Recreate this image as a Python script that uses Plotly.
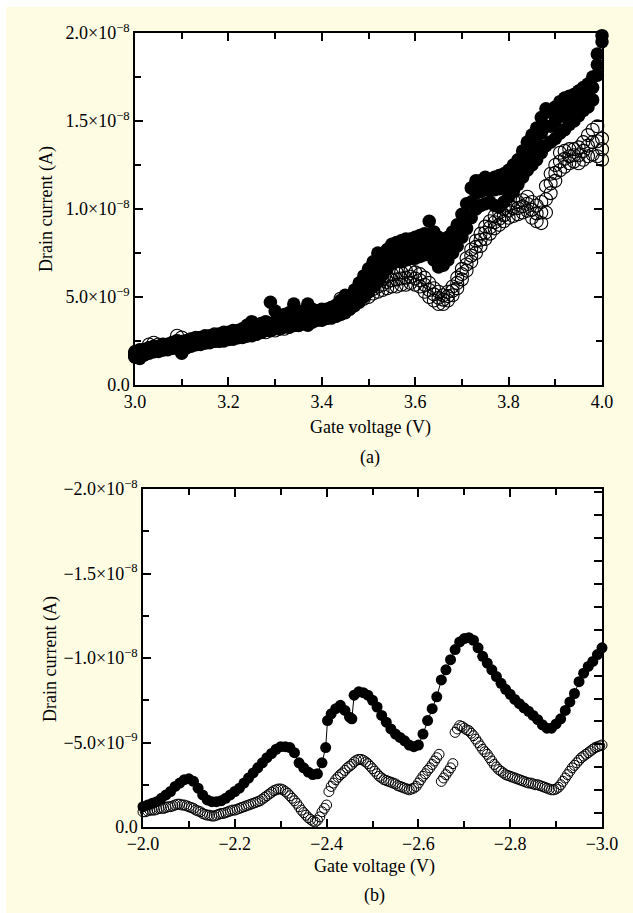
import plotly.graph_objects as go

NA = 1e-9  # values below are stored in nA

# ---------------- (a) positive gate sweep ----------------
VG_A = [
    3.00, 3.01, 3.02, 3.03, 3.04, 3.05, 3.06, 3.07, 3.08, 3.09,
    3.10, 3.11, 3.12, 3.13, 3.14, 3.15, 3.16, 3.17, 3.18, 3.19,
    3.20, 3.21, 3.22, 3.23, 3.24, 3.25, 3.26, 3.27, 3.28, 3.29,
    3.30, 3.31, 3.32, 3.33, 3.34, 3.35, 3.36, 3.37, 3.38, 3.39,
    3.40, 3.41, 3.42, 3.43, 3.44, 3.45, 3.46, 3.47, 3.48, 3.49,
    3.50, 3.51, 3.52, 3.53, 3.54, 3.55, 3.56, 3.57, 3.58, 3.59,
    3.60, 3.61, 3.62, 3.63, 3.64, 3.65, 3.66, 3.67, 3.68, 3.69,
    3.70, 3.71, 3.72, 3.73, 3.74, 3.75, 3.76, 3.77, 3.78, 3.79,
    3.80, 3.81, 3.82, 3.83, 3.84, 3.85, 3.86, 3.87, 3.88, 3.89,
    3.90, 3.91, 3.92, 3.93, 3.94, 3.95, 3.96, 3.97, 3.98, 3.99,
    4.00,
]
ID_A_FILLED_LO = [
    1.6, 1.5, 1.7, 1.8, 1.9, 1.9, 2.0, 2.0, 2.1, 2.1,
    1.8, 2.1, 2.2, 2.3, 2.3, 2.4, 2.4, 2.5, 2.5, 2.5,
    2.6, 2.6, 2.7, 2.7, 2.8, 2.8, 2.9, 3.0, 3.1, 3.1,
    3.2, 3.2, 3.3, 3.3, 3.4, 3.4, 3.5, 3.4, 3.6, 3.7,
    3.7, 3.8, 3.8, 3.9, 4.0, 4.1, 4.3, 4.5, 4.7, 5.0,
    5.3, 5.6, 5.9, 6.3, 6.6, 6.9, 7.0, 7.0, 7.1, 7.2,
    7.2, 7.3, 7.4, 7.5, 7.1, 6.7, 6.8, 7.1, 7.5, 7.9,
    8.4, 8.9, 9.5, 10.0, 10.2, 10.3, 10.4, 10.2, 10.1, 10.4,
    10.7, 11.0, 11.4, 11.8, 12.2, 12.5, 12.8, 13.2, 13.6, 13.8,
    14.0, 14.3, 14.5, 14.8, 15.0, 15.3, 15.6, 15.8, 16.2, 17.6,
    19.5,
]
ID_A_FILLED_MID = [
    1.75, 1.8, 1.85, 1.95, 2.05, 2.05, 2.15, 2.2, 2.25, 2.3,
    2.1, 2.3, 2.4, 2.5, 2.5, 2.6, 2.6, 2.7, 2.7, 2.75,
    2.8, 2.85, 2.9, 2.95, 3.1, 3.2, 3.15, 3.25, 3.35, 3.45,
    3.6, 3.5, 3.6, 3.7, 3.9, 3.7, 3.85, 3.9, 3.95, 3.95,
    4.0, 4.05, 4.1, 4.2, 4.4, 4.6, 4.65, 4.95, 5.25, 5.6,
    5.95, 6.3, 6.7, 6.8, 7.1, 7.45, 7.55, 7.6, 7.7, 7.75,
    7.8, 7.9, 8.0, 8.4, 7.9, 7.5, 7.5, 7.75, 8.1, 8.5,
    9.05, 9.6, 10.4, 10.9, 11.0, 11.1, 11.05, 11.1, 11.15, 11.3,
    11.55, 11.8, 12.15, 12.6, 13.05, 13.4, 13.75, 14.3, 14.7, 14.7,
    15.0, 15.25, 15.45, 15.65, 15.8, 16.0, 16.3, 16.5, 16.9, 18.2,
    19.85,
]
ID_A_FILLED_HI = [
    1.9, 2.0, 2.0, 2.1, 2.2, 2.2, 2.3, 2.3, 2.4, 2.5,
    2.4, 2.5, 2.6, 2.7, 2.7, 2.8, 2.8, 2.9, 2.9, 3.0,
    3.0, 3.1, 3.1, 3.2, 3.4, 3.6, 3.4, 3.5, 3.6, 4.7,
    4.2, 3.9, 4.0, 4.1, 4.6, 4.0, 4.2, 4.6, 4.3, 4.2,
    4.3, 4.3, 4.4, 4.5, 4.8, 5.1, 5.0, 5.4, 5.8, 6.2,
    6.6, 7.0, 7.5, 7.3, 7.7, 8.0, 8.1, 8.2, 8.3, 8.3,
    8.4, 8.5, 8.6, 9.3, 8.7, 8.4, 8.2, 8.4, 8.7, 9.1,
    9.7, 10.3, 11.2, 11.6, 11.6, 11.8, 11.6, 11.8, 11.9, 12.0,
    12.2, 12.5, 12.8, 13.3, 13.8, 14.2, 14.6, 15.2, 15.7, 15.5,
    15.8, 16.1, 16.3, 16.4, 16.5, 16.7, 16.9, 17.1, 17.5, 18.8,
    20.2,
]
ID_A_OPEN_LO = [
    1.6, 1.7, 1.8, 1.9, 1.9, 2.0, 2.0, 2.1, 2.1, 2.2,
    2.2, 2.2, 2.3, 2.3, 2.4, 2.4, 2.5, 2.5, 2.5, 2.6,
    2.6, 2.7, 2.7, 2.8, 2.8, 2.9, 2.9, 3.0, 3.0, 3.1,
    3.1, 3.2, 3.2, 3.3, 3.4, 3.4, 3.5, 3.5, 3.6, 3.7,
    3.7, 3.8, 3.9, 4.0, 4.1, 4.2, 4.4, 4.6, 4.8, 4.9,
    5.0, 5.2, 5.3, 5.4, 5.5, 5.6, 5.6, 5.7, 5.7, 5.8,
    5.7, 5.6, 5.3, 5.0, 4.8, 4.6, 4.6, 4.8, 5.1, 5.5,
    6.0, 6.5, 7.0, 7.5, 7.9, 8.3, 8.6, 8.9, 9.1, 9.3,
    9.5, 9.6, 9.7, 9.8, 9.9, 9.5, 9.3, 9.2, 9.8, 10.9,
    11.6, 12.2, 12.4, 12.6, 12.7, 12.6, 12.8, 13.0, 13.1, 13.0,
    12.8,
]
ID_A_OPEN_MID = [
    1.7, 1.8, 1.9, 2.1, 2.15, 2.15, 2.15, 2.2, 2.25, 2.5,
    2.45, 2.35, 2.45, 2.45, 2.5, 2.55, 2.6, 2.65, 2.65, 2.75,
    2.75, 2.8, 2.85, 2.9, 2.95, 3.0, 3.05, 3.15, 3.15, 3.25,
    3.3, 3.35, 3.4, 3.45, 3.55, 3.6, 3.65, 3.7, 3.8, 3.85,
    3.9, 4.0, 4.1, 4.25, 4.5, 4.5, 4.65, 4.85, 5.1, 5.2,
    5.3, 5.45, 5.6, 5.7, 5.85, 5.95, 6.0, 6.05, 6.1, 6.15,
    6.05, 5.95, 5.7, 5.4, 5.15, 4.95, 4.85, 5.05, 5.35, 5.8,
    6.3, 6.85, 7.35, 7.85, 8.25, 8.65, 8.95, 9.25, 9.45, 9.65,
    9.9, 10.05, 10.05, 10.15, 10.3, 9.95, 9.75, 9.8, 10.55, 11.45,
    12.05, 12.7, 12.85, 13.0, 13.05, 13.05, 13.3, 13.6, 13.8, 13.85,
    13.4,
]
ID_A_OPEN_HI = [
    1.8, 1.9, 2.0, 2.3, 2.4, 2.3, 2.3, 2.3, 2.4, 2.8,
    2.7, 2.5, 2.6, 2.6, 2.6, 2.7, 2.7, 2.8, 2.8, 2.9,
    2.9, 2.9, 3.0, 3.0, 3.1, 3.1, 3.2, 3.3, 3.3, 3.4,
    3.5, 3.5, 3.6, 3.6, 3.7, 3.8, 3.8, 3.9, 4.0, 4.0,
    4.1, 4.2, 4.3, 4.5, 4.9, 4.8, 4.9, 5.1, 5.4, 5.5,
    5.6, 5.7, 5.9, 6.0, 6.2, 6.3, 6.4, 6.4, 6.5, 6.5,
    6.4, 6.3, 6.1, 5.8, 5.5, 5.3, 5.1, 5.3, 5.6, 6.1,
    6.6, 7.2, 7.7, 8.2, 8.6, 9.0, 9.3, 9.6, 9.8, 10.0,
    10.3, 10.5, 10.4, 10.5, 10.7, 10.4, 10.2, 10.4, 11.3, 12.0,
    12.5, 13.2, 13.3, 13.4, 13.4, 13.5, 13.8, 14.2, 14.5, 14.7,
    14.0,
]

# ---------------- (b) negative gate sweep ----------------
VG_B_FILLED = [
    -2.00, -2.01, -2.02, -2.03, -2.04, -2.05, -2.06, -2.07, -2.08, -2.09,
    -2.10, -2.11, -2.12, -2.13, -2.14, -2.15, -2.16, -2.17, -2.18, -2.19,
    -2.20, -2.21, -2.22, -2.23, -2.24, -2.25, -2.26, -2.27, -2.28, -2.29,
    -2.30, -2.31, -2.32, -2.33, -2.34, -2.35, -2.36, -2.37, -2.38, -2.39,
    -2.398, -2.402, -2.41, -2.42, -2.43, -2.44, -2.45, -2.455,
    -2.46, -2.47, -2.48, -2.49, -2.50, -2.51, -2.52, -2.53, -2.54, -2.55,
    -2.56, -2.57, -2.58, -2.59, -2.60, -2.61, -2.62, -2.63, -2.64, -2.65,
    -2.66, -2.67, -2.68, -2.69, -2.70, -2.71, -2.72, -2.73, -2.74, -2.75,
    -2.76, -2.77, -2.78, -2.79, -2.80, -2.81, -2.82, -2.83, -2.84, -2.85,
    -2.86, -2.87, -2.88, -2.89, -2.90, -2.91, -2.92, -2.93, -2.94, -2.95,
    -2.96, -2.97, -2.98, -2.99, -3.00,
]
ID_B_FILLED = [
    -1.2, -1.3, -1.4, -1.5, -1.7, -1.9, -2.1, -2.4, -2.6, -2.8,
    -2.85, -2.7, -2.3, -1.9, -1.6, -1.5, -1.5, -1.55, -1.7, -1.9,
    -2.1, -2.3, -2.6, -2.9, -3.2, -3.5, -3.8, -4.1, -4.35, -4.6,
    -4.75, -4.75, -4.7, -4.4, -3.8, -3.5, -3.25, -3.1, -3.15, -3.8,
    -4.7, -6.3, -6.7, -7.0, -7.2, -6.9, -6.5, -6.4,
    -7.8, -8.0, -7.95, -7.8, -7.5, -7.1, -6.6, -6.2, -5.8, -5.5,
    -5.3, -5.1, -4.85, -4.75, -4.85, -5.5, -6.3, -7.0, -7.7, -8.7,
    -9.3, -9.9, -10.5, -10.95, -11.15, -11.2, -11.05, -10.6, -10.1, -9.7,
    -9.3, -8.9, -8.5, -8.15, -7.85, -7.55, -7.3, -7.05, -6.85, -6.6,
    -6.35, -6.05, -5.85, -5.85, -6.1, -6.4, -6.9, -7.4, -7.9, -8.6,
    -9.1, -9.5, -9.8, -10.2, -10.6,
]
VG_B_OPEN = [
    -2.00, -2.01, -2.02, -2.03, -2.04, -2.05, -2.06, -2.07, -2.08, -2.09,
    -2.10, -2.11, -2.12, -2.13, -2.14, -2.15, -2.16, -2.17, -2.18, -2.19,
    -2.20, -2.21, -2.22, -2.23, -2.24, -2.25, -2.26, -2.27, -2.28, -2.29,
    -2.30, -2.31, -2.32, -2.33, -2.34, -2.35, -2.36, -2.37, -2.38, -2.39,
    -2.40, -2.405, -2.41, -2.42, -2.43, -2.44, -2.45, -2.46, -2.47, -2.48,
    -2.49, -2.50, -2.51, -2.52, -2.53, -2.54, -2.55, -2.56, -2.57, -2.58,
    -2.59, -2.60, -2.61, -2.62, -2.63, -2.64, -2.645,
    -2.650, -2.655, -2.660, -2.665, -2.670, -2.675,
    -2.68, -2.69, -2.70, -2.71, -2.72, -2.73, -2.74, -2.75, -2.76, -2.77,
    -2.78, -2.79, -2.80, -2.81, -2.82, -2.83, -2.84, -2.85, -2.86, -2.87,
    -2.88, -2.89, -2.90, -2.91, -2.92, -2.93, -2.94, -2.95, -2.96, -2.97,
    -2.98, -2.99, -3.00,
]
ID_B_OPEN = [
    -0.9, -0.95, -1.0, -1.05, -1.1, -1.15, -1.2, -1.3, -1.35, -1.3,
    -1.2, -1.1, -0.95, -0.8, -0.7, -0.65, -0.7, -0.8, -0.85, -0.95,
    -1.0, -1.1, -1.2, -1.3, -1.4, -1.5, -1.65, -1.85, -2.05, -2.2,
    -2.25, -2.1, -1.85, -1.55, -1.2, -0.85, -0.55, -0.35, -0.4, -0.9,
    -1.3, -2.1, -2.4, -2.8, -3.1, -3.35, -3.6, -3.85, -4.0, -3.95,
    -3.75, -3.45, -3.15, -2.9, -2.75, -2.65, -2.55, -2.4, -2.3, -2.2,
    -2.3, -2.6, -3.0, -3.35, -3.7, -4.1, -4.3,
    -2.7, -2.9, -3.1, -3.3, -3.5, -3.75,
    -5.6, -6.0, -5.85, -5.7, -5.4, -5.0, -4.6, -4.3, -3.9, -3.55,
    -3.3, -3.1, -3.0, -2.9, -2.8, -2.7, -2.6, -2.55, -2.5, -2.4,
    -2.3, -2.2, -2.25, -2.5, -2.9, -3.3, -3.65, -3.95, -4.2, -4.4,
    -4.6, -4.75, -4.85,
]
# intermediate (half-step) readings of the open-circle sweep
VG_B_OPEN_HALF = [
    -2.005, -2.015, -2.025, -2.035, -2.045, -2.055, -2.065, -2.075, -2.085, -2.095,
    -2.105, -2.115, -2.125, -2.135, -2.145, -2.155, -2.165, -2.175, -2.185, -2.195,
    -2.205, -2.215, -2.225, -2.235, -2.245, -2.255, -2.265, -2.275, -2.285, -2.295,
    -2.305, -2.315, -2.325, -2.335, -2.345, -2.355, -2.365, -2.375, -2.385, -2.395,
    -2.415, -2.425, -2.435, -2.445, -2.455, -2.465, -2.475, -2.485, -2.495, -2.505,
    -2.515, -2.525, -2.535, -2.545, -2.555, -2.565, -2.575, -2.585, -2.595, -2.605,
    -2.615, -2.625, -2.635,
    -2.685, -2.695, -2.705, -2.715, -2.725, -2.735, -2.745, -2.755, -2.765, -2.775,
    -2.785, -2.795, -2.805, -2.815, -2.825, -2.835, -2.845, -2.855, -2.865, -2.875,
    -2.885, -2.895, -2.905, -2.915, -2.925, -2.935, -2.945, -2.955, -2.965, -2.975,
    -2.985, -2.995,
]
ID_B_OPEN_HALF = [
    -0.9, -1.0, -1.0, -1.1, -1.1, -1.2, -1.25, -1.35, -1.3, -1.25,
    -1.15, -1.0, -0.9, -0.75, -0.7, -0.65, -0.75, -0.8, -0.9, -1.0,
    -1.05, -1.15, -1.25, -1.35, -1.45, -1.55, -1.75, -1.95, -2.15, -2.25,
    -2.2, -2.0, -1.7, -1.4, -1.0, -0.7, -0.45, -0.3, -0.6, -1.1,
    -2.6, -2.95, -3.2, -3.5, -3.7, -3.95, -4.0, -3.85, -3.6, -3.3,
    -3.0, -2.8, -2.7, -2.6, -2.45, -2.35, -2.25, -2.25, -2.4, -2.8,
    -3.15, -3.5, -3.9,
    -5.8, -5.95, -5.75, -5.55, -5.2, -4.8, -4.45, -4.1, -3.7, -3.4,
    -3.2, -3.05, -2.95, -2.85, -2.75, -2.65, -2.6, -2.5, -2.45, -2.35,
    -2.25, -2.2, -2.35, -2.7, -3.1, -3.5, -3.8, -4.1, -4.3, -4.5,
    -4.7, -4.8,
]

TICKS_A_Y = [0, 5e-9, 1e-8, 1.5e-8, 2e-8]
TICKS_A_Y_TEXT = ["0.0", "5.0×10<sup>−9</sup>", "1.0×10<sup>−8</sup>",
                  "1.5×10<sup>−8</sup>", "2.0×10<sup>−8</sup>"]
TICKS_B_Y = [0, -5e-9, -1e-8, -1.5e-8, -2e-8]
TICKS_B_Y_TEXT = ["0.0", "−5.0×10<sup>−9</sup>", "−1.0×10<sup>−8</sup>",
                  "−1.5×10<sup>−8</sup>", "−2.0×10<sup>−8</sup>"]
TICKS_A_X = [3.0, 3.2, 3.4, 3.6, 3.8, 4.0]
TICKS_A_X_TEXT = ["3.0", "3.2", "3.4", "3.6", "3.8", "4.0"]
TICKS_B_X = [-2.0, -2.2, -2.4, -2.6, -2.8, -3.0]
TICKS_B_X_TEXT = ["−2.0", "−2.2", "−2.4", "−2.6", "−2.8", "−3.0"]

W, H = 633, 913
FONT = "Liberation Serif, Times New Roman, serif"
BG = "#FEFCE3"


def px(x):
    return x / W


def py(y):
    return 1 - y / H


def scaled(vals):
    return [v * NA for v in vals]


fig = go.Figure()

open_top = dict(symbol="circle-open", size=13, color="black", line=dict(width=1.1, color="black"))
fill_top = dict(symbol="circle", size=13.5, color="black", line=dict(width=0))

for ys in (ID_A_OPEN_LO, ID_A_OPEN_MID, ID_A_OPEN_HI):
    fig.add_trace(go.Scatter(x=VG_A, y=scaled(ys), mode="markers", marker=open_top,
                             xaxis="x", yaxis="y", cliponaxis=False, showlegend=False))
for ys in (ID_A_FILLED_LO, ID_A_FILLED_MID, ID_A_FILLED_HI):
    fig.add_trace(go.Scatter(x=VG_A, y=scaled(ys), mode="markers", marker=fill_top,
                             xaxis="x", yaxis="y", cliponaxis=False, showlegend=False))

open_bot = dict(symbol="circle-open", size=10, color="black", line=dict(width=1, color="black"))
fig.add_trace(go.Scatter(x=VG_B_OPEN, y=scaled(ID_B_OPEN), mode="markers", marker=open_bot,
                         xaxis="x2", yaxis="y2", cliponaxis=False, showlegend=False))
fig.add_trace(go.Scatter(x=VG_B_OPEN_HALF, y=scaled(ID_B_OPEN_HALF), mode="markers", marker=open_bot,
                         xaxis="x2", yaxis="y2", cliponaxis=False, showlegend=False))
fig.add_trace(go.Scatter(x=VG_B_FILLED, y=scaled(ID_B_FILLED), mode="lines+markers",
                         line=dict(color="black", width=1),
                         marker=dict(symbol="circle", size=11, color="black", line=dict(width=0)),
                         xaxis="x2", yaxis="y2", cliponaxis=False, showlegend=False))
# anchor trace for the right-hand tick axis of panel (b)
fig.add_trace(go.Scatter(x=[], y=[], xaxis="x2", yaxis="y3", showlegend=False, hoverinfo="skip"))

tickfont = dict(family=FONT, size=18, color="black")
common = dict(showgrid=False, zeroline=False, showline=True, linecolor="black", linewidth=1.5,
              ticks="inside", ticklen=8, tickwidth=1.5, tickcolor="black", tickfont=tickfont,
              fixedrange=True, automargin=False)
minor_x = dict(ticks="inside", ticklen=6, tickwidth=1.5, tickcolor="black", dtick=0.1, showgrid=False)
minor_y = dict(ticks="inside", ticklen=6, tickwidth=1.5, tickcolor="black", dtick=2.5e-9, tick0=0,
               showgrid=False)

fig.update_layout(
    template="none",
    width=W, height=H, autosize=False,
    margin=dict(l=0, r=0, t=0, b=0, pad=0),
    paper_bgcolor=BG, plot_bgcolor="white",
    showlegend=False,
    xaxis=dict(domain=[px(135), px(602)], anchor="y", range=[3.0, 4.0],
               tickvals=TICKS_A_X, ticktext=TICKS_A_X_TEXT, mirror="ticks",
               minor=dict(minor_x, tick0=3.0), **common),
    yaxis=dict(domain=[py(385), py(33)], anchor="x", range=[0, 2e-8],
               tickvals=TICKS_A_Y, ticktext=TICKS_A_Y_TEXT, mirror="ticks",
               minor=minor_y, **common),
    xaxis2=dict(domain=[px(143), px(602)], anchor="y2", range=[-2.0, -3.0],
                tickvals=TICKS_B_X, ticktext=TICKS_B_X_TEXT, mirror="ticks",
                minor=dict(minor_x, tick0=-2.0), **common),
    yaxis2=dict(domain=[py(827), py(489)], anchor="x2", range=[0, -2e-8],
                tickvals=TICKS_B_Y, ticktext=TICKS_B_Y_TEXT, mirror=True,
                minor=minor_y, **common),
    yaxis3=dict(overlaying="y2", anchor="x2", side="right", range=[0, 14.76],
                tick0=0.611, dtick=1, ticks="inside", ticklen=8, tickwidth=1.5, tickcolor="black",
                showticklabels=False, showgrid=False, zeroline=False, showline=False,
                fixedrange=True, automargin=False),
    shapes=[
        dict(type="rect", xref="paper", yref="paper", x0=0, x1=px(6), y0=0, y1=1,
             fillcolor="white", line=dict(width=0), layer="below"),
        dict(type="rect", xref="paper", yref="paper", x0=0, x1=1, y0=py(7), y1=1,
             fillcolor="white", line=dict(width=0), layer="below"),
    ],
)

labfont = dict(family=FONT, size=18, color="black")
annots = [
    ("Drain current (A)", 47, 209, -90),
    ("Gate voltage (V)", 370, 427, 0),
    ("(a)", 370, 457, 0),
    ("Drain current (A)", 50, 659, -90),
    ("Gate voltage (V)", 374, 866, 0),
    ("(b)", 374, 895, 0),
]
for text, x, y, ang in annots:
    fig.add_annotation(text=text, x=px(x), y=py(y), xref="paper", yref="paper",
                       showarrow=False, textangle=ang, font=labfont,
                       xanchor="center", yanchor="middle")

fig.write_html("out.html", config={"displayModeBar": False},
               post_script="document.body.style.margin='0px';document.body.style.padding='0px';")
